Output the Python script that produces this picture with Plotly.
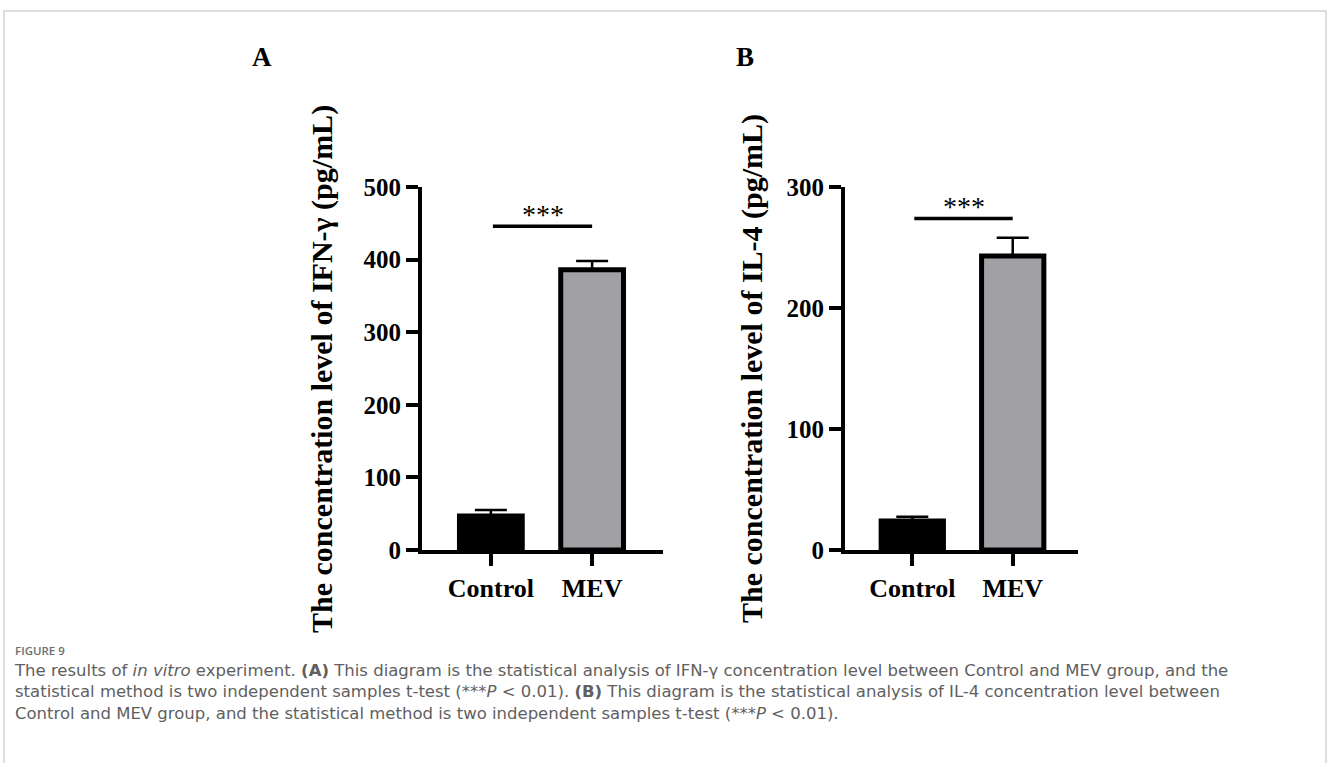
import plotly.graph_objects as go

# ---------------- data ----------------
categories = ["Control", "MEV"]
ifn_mean = [47, 386]
ifn_err = [8, 12]
il4_mean = [24, 243]
il4_err = [3.5, 15]
ifn_ticks = [0, 100, 200, 300, 400, 500]
il4_ticks = [0, 100, 200, 300]
ifn_sig_y = 446
il4_sig_y = 274
sig_label = "***"
bar_colors = ["#000000", "#a1a0a5"]

W, H = 1328, 763
SERIF = "Liberation Serif"

fig = go.Figure()

def add_bars(means, errs, xa, ya):
    fig.add_trace(go.Bar(
        x=categories, y=means, xaxis=xa, yaxis=ya,
        width=0.62,
        marker=dict(color=bar_colors, line=dict(color="black", width=5)),
        error_y=dict(type="data", array=errs, arrayminus=[0] * len(errs),
                     symmetric=False, color="black", thickness=2.5, width=16),
        showlegend=False, hoverinfo="skip",
    ))

add_bars(ifn_mean, ifn_err, "x", "y")
add_bars(il4_mean, il4_err, "x2", "y2")

ydom = [1 - 550 / H, 1 - 187 / H]
common_x = dict(showline=True, linewidth=4, linecolor="black", ticks="outside",
                ticklen=12, tickwidth=4, tickcolor="black", showgrid=False,
                zeroline=False, tickfont=dict(family=SERIF, size=26, color="black", weight="bold"),
                fixedrange=True, automargin=False)
common_y = dict(showline=True, linewidth=4, linecolor="black", ticks="outside",
                ticklen=12, tickwidth=4, tickcolor="black", showgrid=False,
                zeroline=False, tickfont=dict(family=SERIF, size=25, color="black", weight="bold"),
                domain=ydom, fixedrange=True, ticklabelstandoff=0, automargin=False)

fig.update_layout(
    template="none",
    width=W, height=H, autosize=False,
    margin=dict(l=0, r=0, t=0, b=0, pad=0),
    paper_bgcolor="white", plot_bgcolor="white",
    xaxis=dict(domain=[422 / W, 663 / W], range=[-0.68, 1.70], anchor="y", **common_x),
    yaxis=dict(range=[0, 500], tickvals=ifn_ticks, anchor="x", **common_y),
    xaxis2=dict(domain=[845 / W, 1078 / W], range=[-0.67, 1.65], anchor="y2", **common_x),
    yaxis2=dict(range=[0, 300], tickvals=il4_ticks, anchor="x2", **common_y),
)

shapes = []
annotations = []

# significance bars
for xr, yr, sy in [("x", "y", ifn_sig_y), ("x2", "y2", il4_sig_y)]:
    shapes.append(dict(type="line", xref=xr, yref=yr, x0=0.02, x1=1.0, y0=sy, y1=sy,
                       line=dict(color="black", width=3.5)))
    annotations.append(dict(xref=xr, yref=yr, x=0.51, y=sy, text=sig_label, showarrow=False,
                            yanchor="bottom", yshift=-6,
                            font=dict(family=SERIF, size=28, color="black")))

# y-axis titles
titles = [("The concentration level of IFN-γ (pg/mL)", 322),
          ("The concentration level of IL-4 (pg/mL)", 752)]
for txt, xc in titles:
    annotations.append(dict(xref="paper", yref="paper", x=xc / W, y=1 - 369 / H,
                            text=txt, textangle=-90, showarrow=False,
                            xanchor="center", yanchor="middle",
                            font=dict(family=SERIF, size=30, color="black", weight="bold")))

# panel labels
for lab, xc in [("A", 262), ("B", 745)]:
    annotations.append(dict(xref="paper", yref="paper", x=xc / W, y=1 - 57 / H, text=lab,
                            showarrow=False, xanchor="center", yanchor="middle",
                            font=dict(family=SERIF, size=27, color="black", weight="bold")))

# caption
annotations.append(dict(xref="paper", yref="paper", x=13 / W, y=1 - 650 / H, text="FIGURE 9",
                        showarrow=False, xanchor="left", yanchor="middle",
                        font=dict(family="Open Sans", size=11.5, color="#6e6e6e", weight=600)))
cap_lines = [
    "The results of <i>in vitro</i> experiment. <b>(A)</b> This diagram is the statistical analysis of IFN-γ concentration level between Control and MEV group, and the",
    "statistical method is two independent samples t-test (***<i>P</i> &lt; 0.01). <b>(B)</b> This diagram is the statistical analysis of IL-4 concentration level between",
    "Control and MEV group, and the statistical method is two independent samples t-test (***<i>P</i> &lt; 0.01).",
]
annotations.append(dict(xref="paper", yref="paper", x=12 / W, y=1 - 659 / H,
                        text="<br>".join(cap_lines), showarrow=False,
                        xanchor="left", yanchor="top", align="left",
                        font=dict(family="DejaVu Sans", size=16.5, color="#606060")))

# outer border
shapes.append(dict(type="rect", xref="paper", yref="paper",
                   x0=4 / W, x1=1326 / W, y0=-0.05, y1=1 - 11 / H,
                   line=dict(color="#d4d4d4", width=1.5), fillcolor="rgba(0,0,0,0)"))

fig.update_layout(shapes=shapes, annotations=annotations)
fig.write_html("out.html")
